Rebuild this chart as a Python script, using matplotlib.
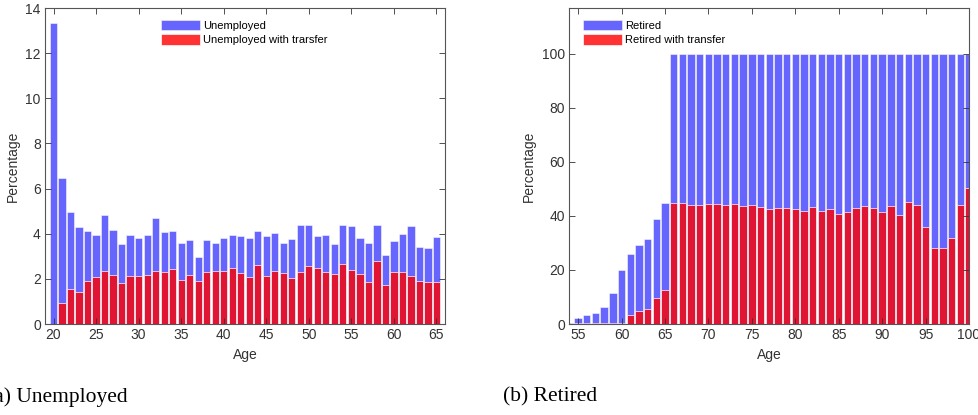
import numpy as np
import matplotlib
matplotlib.use("Agg")
from matplotlib import pyplot as plt

# unemployed by age, total share and share receiving a transfer
ages_u = np.arange(20, 66)
unemployed = [13.34, 6.46, 4.94, 4.29, 4.14, 3.93, 4.84, 4.17, 3.54, 3.96,
              3.79, 3.96, 4.69, 4.07, 4.14, 3.57, 3.73, 2.96, 3.71, 3.57,
              3.83, 3.93, 3.91, 3.79, 4.10, 3.91, 4.02, 3.57, 3.76, 4.38,
              4.38, 3.89, 3.96, 3.54, 4.38, 4.36, 3.82, 3.61, 4.38, 3.06,
              3.68, 3.99, 4.33, 3.40, 3.36, 3.86]
unemployed_tr = [0.02, 0.92, 1.54, 1.42, 1.91, 2.07, 2.34, 2.17, 1.80, 2.13,
                 2.14, 2.17, 2.35, 2.32, 2.44, 1.97, 2.17, 1.91, 2.29, 2.35,
                 2.35, 2.46, 2.25, 2.07, 2.60, 2.13, 2.34, 2.26, 2.04, 2.32,
                 2.59, 2.47, 2.32, 2.22, 2.68, 2.41, 2.20, 1.86, 2.81, 1.72,
                 2.31, 2.32, 2.12, 1.92, 1.86, 1.85]

# retired by age
ages_r = np.arange(54, 101)
retired = [0.5, 2.3, 3.3, 4.0, 6.4, 11.4, 20.1, 26.0, 29.4, 31.4, 38.9, 44.7] + [100.0] * 35
retired_tr = [0.0, 0.2, 0.2, 0.2, 0.2, 0.2, 0.2, 3.2, 4.8, 5.6, 9.8, 12.5,
              44.9, 44.7, 44.2, 44.2, 44.3, 44.3, 44.2, 44.4, 43.8, 44.0,
              43.2, 42.6, 43.0, 43.1, 42.7, 42.0, 43.3, 42.0, 42.6, 40.9,
              41.6, 43.0, 43.7, 43.1, 41.4, 43.6, 40.4, 45.1, 44.0, 35.8,
              28.3, 28.1, 32.0, 44.0, 50.2]

plt.rcParams['font.family'] = ['Liberation Sans', 'DejaVu Sans']
plt.rcParams['font.size'] = 10
ink = '#333333'

fig = plt.figure(figsize=(9.79, 4.15), dpi=100)
W, H = 979, 415
ax1 = fig.add_axes([45 / W, 91 / H, 400 / W, 316 / H])
ax2 = fig.add_axes([569 / W, 91 / H, 400 / W, 316 / H])


def draw(ax, x, total, part, labels, xticks, xlim, ylim, yticks, leg_x):
    ax.bar(x, total, width=0.85, color='blue', alpha=0.6,
           edgecolor='white', linewidth=0.6, label=labels[0])
    ax.bar(x, part, width=0.85, color='red', alpha=0.8,
           edgecolor='white', linewidth=0.6, label=labels[1])
    ax.set_xticks(xticks)
    ax.set_yticks(yticks)
    ax.set_xlim(*xlim)
    ax.set_ylim(*ylim)
    ax.set_xlabel('Age', color=ink, labelpad=4)
    ax.set_ylabel('Percentage', color=ink, labelpad=4)
    ax.tick_params(direction='in', top=True, right=True, colors=ink,
                   length=4, width=0.6, labelsize=10, pad=3)
    for s in ax.spines.values():
        s.set_color('#555555')
        s.set_linewidth(0.8)
    ax.legend(loc='upper left', bbox_to_anchor=(leg_x, 0.962), frameon=False,
              fontsize=8, borderpad=0, borderaxespad=0, handlelength=3.5,
              handleheight=1.05, labelspacing=0.3, handletextpad=0.3)


draw(ax1, ages_u, unemployed, unemployed_tr,
     ['Unemployed', 'Unemployed with trarsfer'],
     np.arange(20, 66, 5), (19.0, 66.0), (0, 14), np.arange(0, 15, 2), 0.29)
draw(ax2, ages_r, retired, retired_tr,
     ['Retired', 'Retired with transfer'],
     np.arange(55, 101, 5), (53.95, 100.0), (0, 117), np.arange(0, 101, 20), 0.035)

fig.text(-13 / W, 1 - 397 / H, '(a) Unemployed', family='Liberation Serif',
         fontsize=15.5, va='center', ha='left')
fig.text(503 / W, 1 - 397 / H, '(b) Retired', family='Liberation Serif',
         fontsize=15.5, va='center', ha='left')

fig.savefig('out.png', dpi=100)
